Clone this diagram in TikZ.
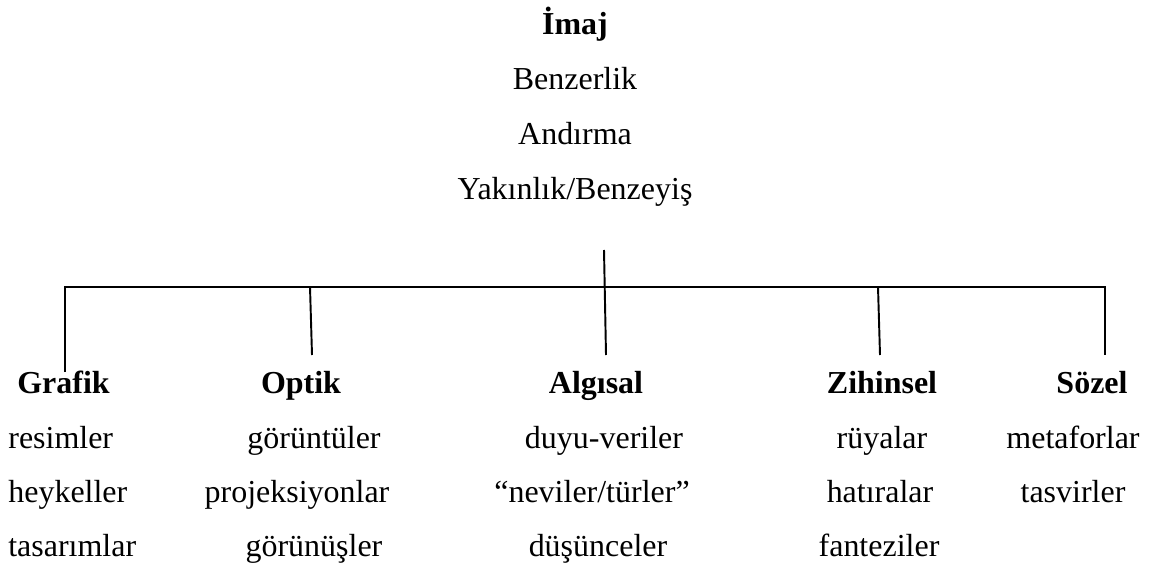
\documentclass[tikz,border=0pt]{standalone}
\usepackage{fontspec}
\setmainfont{Liberation Serif}

\tikzset{
    % Text styles
    title label/.style={font=\fontsize{18.2}{20}\selectfont\bfseries, anchor=base, inner sep=0pt},
    cat label/.style={font=\fontsize{18.2}{20}\selectfont\bfseries, anchor=base, inner sep=0pt},
    item label/.style={font=\fontsize{18.2}{20}\selectfont, anchor=base, inner sep=0pt},
    % Tree lines
    tree line/.style={line width=1.1pt, black},
}

\begin{document}
\begin{tikzpicture}[x=0.02cm, y=-0.02cm]
    \useasboundingbox (0,0) rectangle (1155,567);

    % Top block
    \node[title label] (imaj) at (575,35) {İmaj};
    \node[item label] (benzerlik) at (575,90) {Benzerlik};
    \node[item label] (andirma) at (575,145) {Andırma};
    \node[item label] (yakinlik) at (575,200) {Yakınlık/Benzeyiş};

    % Bar and branch points
    \coordinate (top) at (604,250);
    \coordinate (bar l) at (65,287);
    \coordinate (bar opt) at (310,287);
    \coordinate (bar alg) at (604,287);
    \coordinate (bar zih) at (878,287);
    \coordinate (bar r) at (1105,287);
    \coordinate (end graf) at (65,372);
    \coordinate (end opt) at (312,355);
    \coordinate (end alg) at (606,355);
    \coordinate (end zih) at (880,355);
    \coordinate (end soz) at (1105,355);

    \draw[tree line] (end graf) -- (bar l) -- (bar r) -- (end soz);
    \draw[tree line] (bar opt) -- (end opt);
    \draw[tree line] (top) -- (end alg);
    \draw[tree line] (bar zih) -- (end zih);

    % Grafik
    \node[cat label, anchor=base west] (grafik) at (17,393) {Grafik};
    \node[item label, anchor=base west] (resimler) at (8,448) {resimler};
    \node[item label, anchor=base west] (heykeller) at (8,502) {heykeller};
    \node[item label, anchor=base west] (tasarimlar) at (8,556) {tasarımlar};

    % Optik
    \node[cat label] (optik) at (301,393) {Optik};
    \node[item label] (goruntuler) at (314,448) {görüntüler};
    \node[item label] (projeksiyonlar) at (297,502) {projeksiyonlar};
    \node[item label] (gorunusler) at (314,556) {görünüşler};

    % Algısal
    \node[cat label] (algisal) at (596,393) {Algısal};
    \node[item label] (duyu) at (604,448) {duyu-veriler};
    \node[item label] (neviler) at (592,502) {“neviler/türler”};
    \node[item label] (dusunceler) at (598,556) {düşünceler};

    % Zihinsel
    \node[cat label] (zihinsel) at (882,393) {Zihinsel};
    \node[item label] (ruyalar) at (882,448) {rüyalar};
    \node[item label] (hatiralar) at (880,502) {hatıralar};
    \node[item label] (fanteziler) at (879,556) {fanteziler};

    % Sözel
    \node[cat label] (sozel) at (1092,393) {Sözel};
    \node[item label] (metaforlar) at (1073,448) {metaforlar};
    \node[item label] (tasvirler) at (1073,502) {tasvirler};
\end{tikzpicture}
\end{document}
